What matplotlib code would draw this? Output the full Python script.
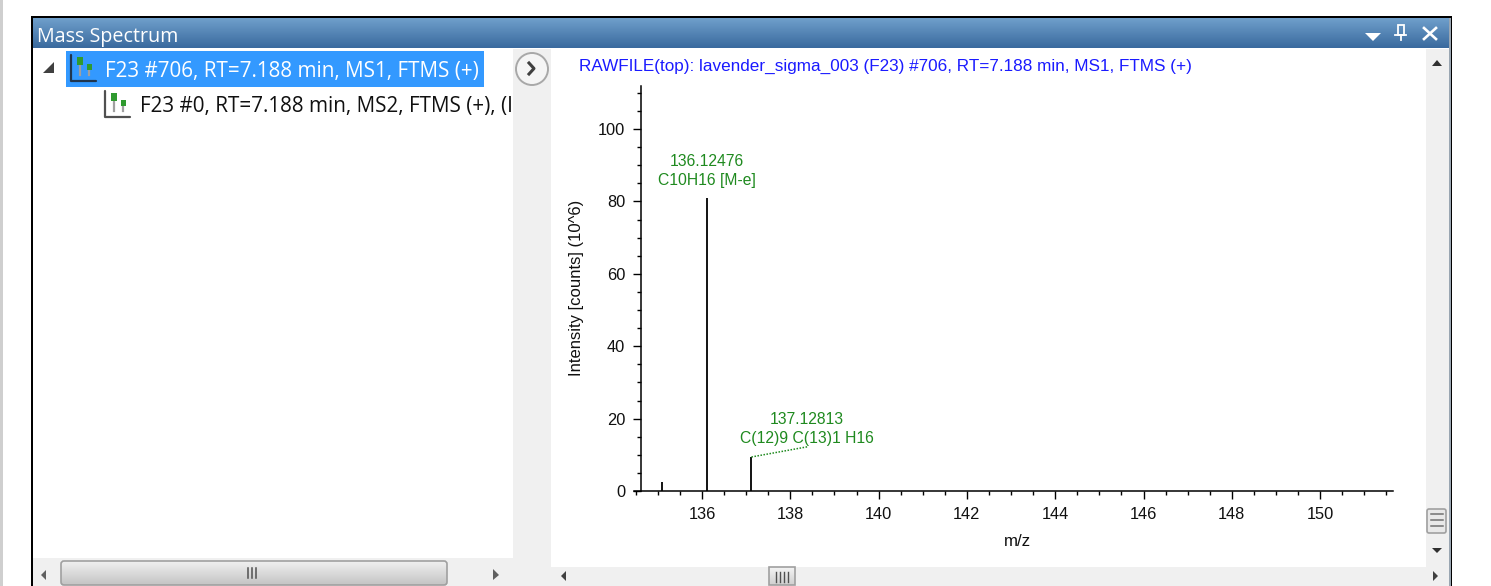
import numpy as np
import matplotlib
matplotlib.use("Agg")
import matplotlib.pyplot as plt
from matplotlib.patches import Rectangle, Circle, Polygon, FancyBboxPatch

# ---- data ----
peak_mz = [135.09, 136.12, 137.12]
peak_intensity = [2.5, 81.0, 9.4]
label_text = ["136.12476\nC10H16 [M-e]", "137.12813\nC(12)9 C(13)1 H16"]
label_anchor_mz = [136.12, 138.38]
label_anchor_y = [81.0, 12.2]
x_major = [136, 138, 140, 142, 144, 146, 148, 150]
x_minor = np.arange(134.5, 151.6, 0.5)
y_major = [0, 20, 40, 60, 80, 100]
y_minor = np.arange(0, 111, 5)
x_limits = (134.46, 151.65)
y_limits = (0, 111.9)

title = "RAWFILE(top): lavender_sigma_003 (F23) #706, RT=7.188 min, MS1, FTMS (+)"
panel_title = "Mass Spectrum"
tree_items = ["F23 #706, RT=7.188 min, MS1, FTMS (+)", "F23 #0, RT=7.188 min, MS2, FTMS (+), (I"]

W, H = 1491, 586
fig = plt.figure(figsize=(W / 100, H / 100), dpi=100, facecolor="white")

# ---- window chrome, in pixel coordinates ----
ui = fig.add_axes([0, 0, 1, 1], zorder=0)
ui.set_xlim(0, W)
ui.set_ylim(H, 0)
ui.axis("off")

def rect(x0, y0, x1, y1, color, z=1):
    ui.add_patch(Rectangle((x0, y0), x1 - x0, y1 - y0, facecolor=color, edgecolor="none", zorder=z))

def vgrad(x0, y0, x1, y1, c0, c1, z=2):
    c0 = np.array(matplotlib.colors.to_rgb(c0))
    c1 = np.array(matplotlib.colors.to_rgb(c1))
    t = np.linspace(0, 1, 32)[:, None, None]
    img = c0[None, None, :] * (1 - t) + c1[None, None, :] * t
    ui.imshow(img, extent=(x0, x1, y1, y0), aspect="auto", zorder=z, interpolation="bilinear")

def tri(points, color, z=5):
    ui.add_patch(Polygon(points, closed=True, facecolor=color, edgecolor="none", zorder=z))

def axes_icon(x, y, dark):
    ui.plot([x, x, x + 25], [y, y + 26, y + 26], color=dark, lw=1.6, zorder=6, solid_capstyle="round")
    ui.plot([x + 9, x + 9], [y + 8, y + 20], color="#a0a0a0", lw=1.6, zorder=6)
    ui.plot([x + 18, x + 18], [y + 13, y + 20], color="#a0a0a0", lw=1.6, zorder=6)
    rect(x + 6, y + 2, x + 12, y + 10, "#2f9a2f", 7)
    rect(x + 15.5, y + 9, x + 20.5, y + 15, "#2f9a2f", 7)

# outer light stripe
rect(0, 0, 3, H, "#cfcfcf")
# panel frame
rect(31, 16, 1452, H, "#000000")
rect(33, 18, 1450, H, "#ffffff")
rect(1449, 18, 1451, H, "#9aa6b2", 2)
ui.set_xlim(0, W)
ui.set_ylim(H, 0)

# title bar
vgrad(33, 18, 1449, 48, "#6f9fcb", "#3a6a9e")
ui.text(37, 37, panel_title, color="white", fontsize=14.2, family="Open Sans", va="center", ha="left", zorder=5)
tri([(1365, 33), (1381, 33), (1373, 41)], "white")
ui.plot([1395, 1406], [35, 35], color="white", lw=1.3, zorder=5)
ui.add_patch(Rectangle((1397.5, 25), 6, 10, facecolor="none", edgecolor="white", lw=1.3, zorder=5))
ui.plot([1401, 1401], [35, 40], color="white", lw=1.3, zorder=5)
ui.plot([1424, 1436], [28, 39], color="white", lw=1.9, zorder=5)
ui.plot([1436, 1424], [28, 39], color="white", lw=1.9, zorder=5)

# tree
rect(66, 51, 484, 87, "#3399ff", 2)
tri([(43, 73), (54, 73), (54, 62)], "#404040")
axes_icon(71, 55, "#20364f")
axes_icon(105, 91, "#505050")
ui.text(105, 72, tree_items[0], color="white", fontsize=14.9, family="Open Sans", va="center", ha="left", zorder=5)
ui.text(140, 106.5, tree_items[1], color="#101010", fontsize=14.9, family="Open Sans", va="center", ha="left",
        zorder=5, clip_on=True, clip_path=Rectangle((0, 0), 511, H, transform=ui.transData))

# splitter
rect(513, 49, 551, H, "#f0f0f0", 3)
ui.add_patch(Circle((532, 69), 16, facecolor="#f5f5f5", edgecolor="#a8a8a8", lw=1.4, zorder=5))
ui.plot([529, 534, 529], [63, 68.5, 74], color="#404040", lw=2.2, zorder=6)

# right scrollbar
rect(1426, 49, 1449, 567, "#f0f0f0", 3)
tri([(1432, 66), (1442, 66), (1437, 60)], "#303030")
tri([(1432, 548), (1442, 548), (1437, 553)], "#303030")
ui.add_patch(FancyBboxPatch((1427, 509), 19, 24, boxstyle="round,pad=0,rounding_size=2",
                            facecolor="#e8e8e8", edgecolor="#a0a0a0", lw=1.2, zorder=5))
for yy in [514, 520, 526]:
    ui.plot([1431, 1443], [yy, yy], color="#707070", lw=1.1, zorder=6)

# bottom scrollbars
rect(33, 558, 513, H, "#f0f0f0", 3)
rect(551, 567, 1449, H, "#f0f0f0", 3)
vgrad(61, 561, 447, 585, "#f0f0f0", "#c4c4c4", 4)
ui.add_patch(FancyBboxPatch((61, 561), 386, 24, boxstyle="round,pad=0,rounding_size=3",
                            facecolor="none", edgecolor="#a0a0a0", lw=1.2, zorder=5))
for xx in [248, 252, 256]:
    ui.plot([xx, xx], [568, 578], color="#505050", lw=1.1, zorder=6)
tri([(46, 570), (46, 580), (41, 575)], "#606060")
tri([(493, 569), (493, 580), (499, 575)], "#606060")
tri([(566, 571), (566, 581), (561, 576)], "#404040")
tri([(1433, 571), (1433, 581), (1438, 576)], "#404040")
vgrad(769, 567, 795, 585, "#f4f4f4", "#d0d0d0", 4)
ui.add_patch(Rectangle((769, 567), 26, 18, facecolor="none", edgecolor="#a0a0a0", lw=1.2, zorder=5))
for xx in [776, 780, 784, 788]:
    ui.plot([xx, xx], [572, 582], color="#505050", lw=1.0, zorder=6)
ui.set_xlim(0, W)
ui.set_ylim(H, 0)

# ---- spectrum ----
x0, x1, ytop, ybot = 634, 1393, 86, 491
ax = fig.add_axes([x0 / W, 1 - ybot / H, (x1 - x0) / W, (ybot - ytop) / H], zorder=2)
ax.patch.set_alpha(0)
ax.set_xlim(*x_limits)
ax.set_ylim(*y_limits)
ax.vlines(peak_mz, 0, peak_intensity, color="black", lw=1.3)

FS = 11.3
green = "#1f8a1f"
ax.text(label_anchor_mz[0], label_anchor_y[0] + 2.8, label_text[0], color=green, fontsize=FS,
        family="Liberation Sans", ha="center", va="bottom", linespacing=1.32)
ax.text(label_anchor_mz[1], label_anchor_y[1] + 0.35, label_text[1], color=green, fontsize=FS,
        family="Liberation Sans", ha="center", va="bottom", linespacing=1.32)
ax.plot([peak_mz[2], label_anchor_mz[1]], [peak_intensity[2], label_anchor_y[1]], color=green, lw=1.1, ls=(0, (1, 1)))

for s in ("top", "right"):
    ax.spines[s].set_visible(False)
ax.spines["left"].set_position(("axes", 7 / (x1 - x0)))
ax.spines["left"].set_linewidth(1.1)
ax.spines["bottom"].set_linewidth(1.1)
ax.set_xticks(x_major)
ax.set_xticks(x_minor, minor=True)
ax.set_yticks(y_major)
ax.set_yticks(y_minor, minor=True)
ax.tick_params(axis="both", which="major", length=5.5, width=1.0, labelsize=11.8, pad=6)
ax.tick_params(axis="both", which="minor", length=3, width=1.0)
for lab in ax.get_xticklabels() + ax.get_yticklabels():
    lab.set_family("Liberation Sans")
    lab.set_color("#101010")

fig.text(1017 / W, 1 - 541 / H, "m/z", fontsize=12.2, family="Liberation Sans", ha="center", va="center", color="#101010")
fig.text(576.5 / W, 1 - 288 / H, "Intensity [counts] (10^6)", fontsize=12.0, family="Liberation Sans", rotation=90,
         ha="center", va="center", color="#101010")
fig.text(579 / W, 1 - 66.5 / H, title, fontsize=12.35, family="Liberation Sans", ha="left", va="center", color="#1a1aff")

fig.savefig("out.png", dpi=100, facecolor="white")
